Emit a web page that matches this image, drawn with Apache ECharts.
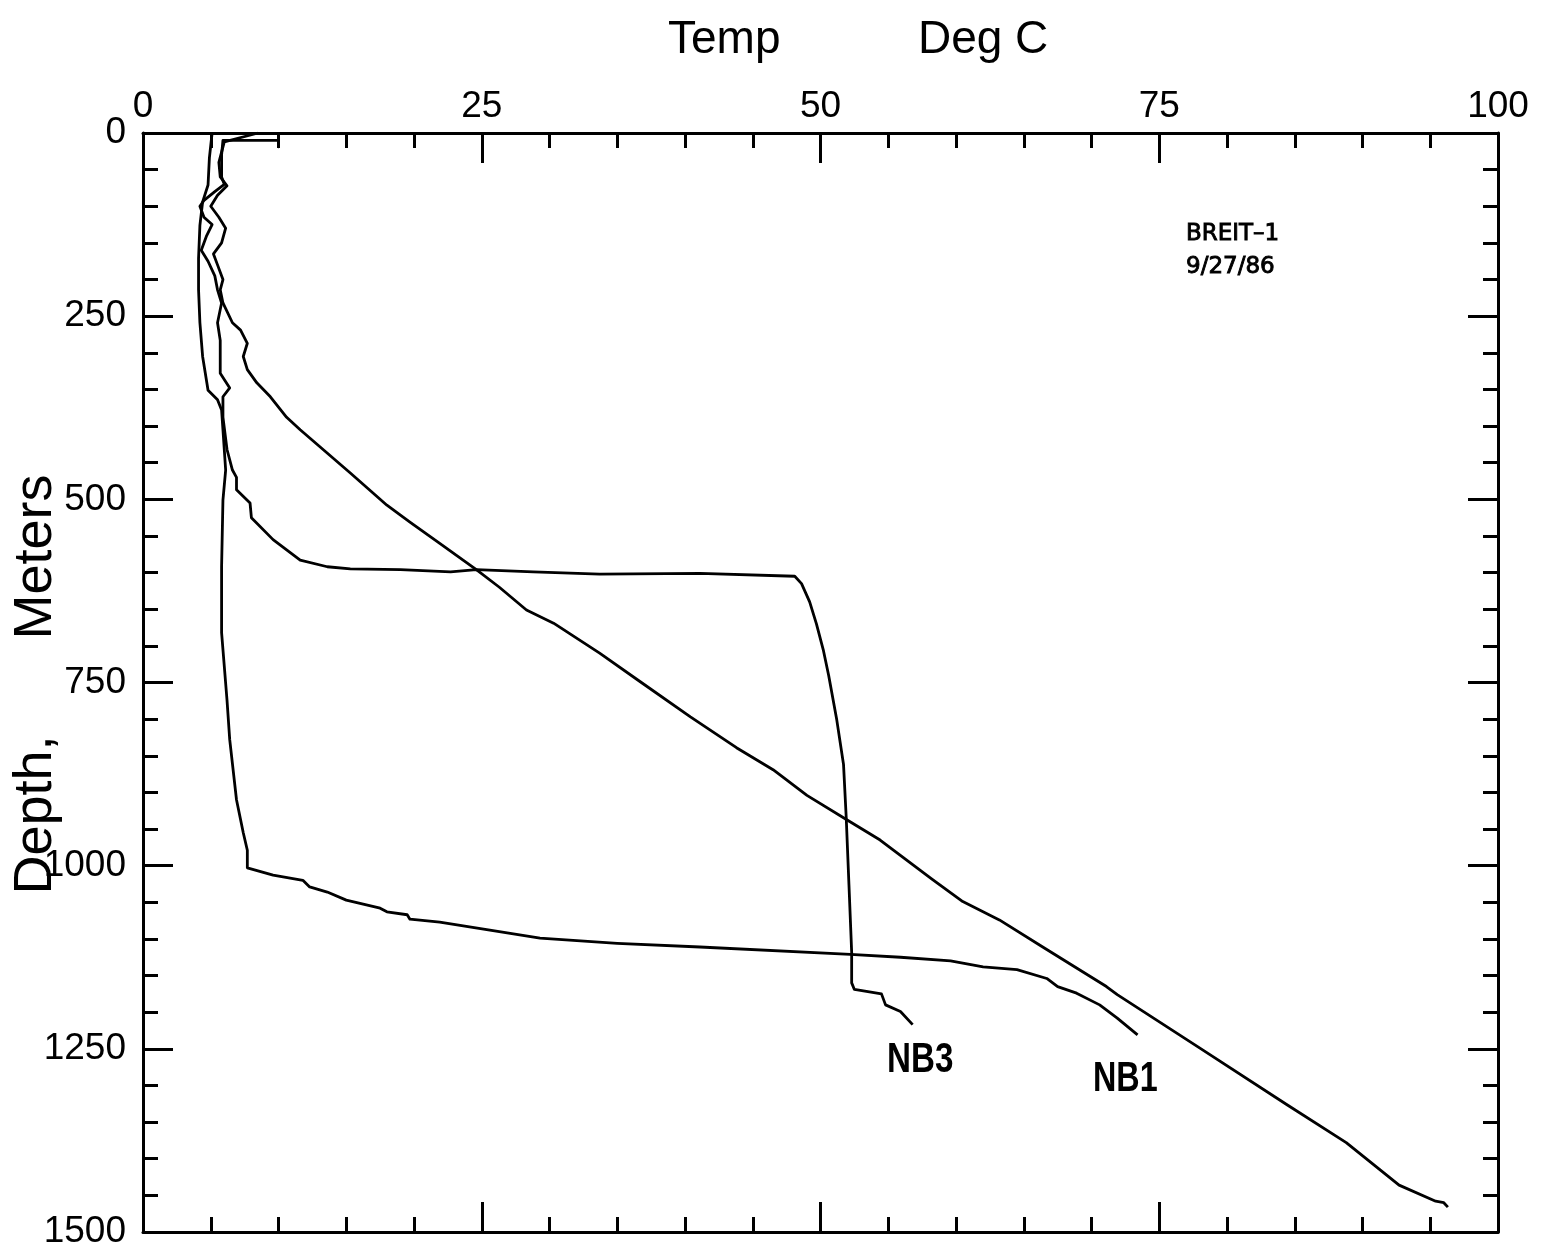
<!DOCTYPE html>
<html>
<head>
<meta charset="utf-8">
<title>BREIT-1 temperature logs</title>
<script src="https://cdn.jsdelivr.net/npm/echarts@6/dist/echarts.min.js"></script>
<style>
  html, body { margin: 0; padding: 0; background: #fff; }
  #chart { width: 1542px; height: 1259px; }
</style>
</head>
<body>
<div id="chart"></div>
<script>
// temperature (deg C) vs depth (m)
const breitTemp = [8.5, 6.0, 5.6, 5.7, 6.2, 5.5, 5.0, 5.6, 6.1, 5.8, 5.2, 5.5, 5.9, 5.7, 5.9, 6.6, 7.2, 7.7, 7.4, 7.7, 8.4, 9.4, 10.6, 11.6, 15.3, 18.0, 19.7, 21.9, 24.6, 26.3, 28.3, 30.3, 33.7, 36.7, 40.4, 43.8, 46.5, 49.0, 52.0, 54.4, 58.2, 60.5, 63.2, 66.4, 71.1, 71.9, 78.0, 84.4, 88.8, 92.7, 95.4, 96.0, 96.3]
const breitDepth = [0, 12, 40, 60, 72, 85, 100, 115, 130, 150, 165, 180, 200, 214, 232, 259, 269, 287, 305, 323, 341, 360, 388, 405, 464, 508, 531, 560, 596, 620, 651, 669, 710, 749, 797, 839, 869, 904, 938, 965, 1018, 1049, 1074, 1111, 1165, 1176, 1249, 1326, 1378, 1436, 1458, 1460, 1466]

const nb3Temp = [10.0, 10.0, 10.0, 5.9, 5.8, 5.8, 6.0, 5.3, 4.5, 4.2, 4.5, 5.1, 4.7, 4.3, 4.8, 5.3, 5.5, 5.8, 5.5, 5.7, 5.7, 6.4, 5.9, 5.9, 6.2, 6.6, 6.9, 6.9, 7.9, 8.0, 9.6, 11.6, 13.6, 15.3, 19.0, 22.7, 24.6, 28.8, 33.7, 41.1, 48.1, 48.6, 49.2, 49.7, 50.2, 50.6, 51.2, 51.7, 51.9, 52.1, 52.3, 52.3, 52.5, 54.5, 54.8, 55.9, 56.8]
const nb3Depth = [3, 19, 10, 10, 30, 60, 70, 80, 92, 100, 115, 125, 140, 160, 175, 195, 214, 232, 259, 283, 328, 348, 360, 388, 432, 460, 470, 487, 505, 525, 555, 583, 592, 595, 596, 599, 596, 599, 602, 601, 605, 615, 640, 670, 705, 740, 801, 862, 935, 1026, 1118, 1160, 1169, 1175, 1190, 1199, 1217]

const nb1Temp = [5.1, 4.9, 4.8, 4.4, 4.2, 4.1, 4.1, 4.2, 4.4, 4.8, 5.5, 5.8, 5.9, 6.1, 5.9, 5.8, 5.8, 6.2, 6.4, 6.9, 7.4, 7.7, 7.7, 9.6, 11.8, 12.3, 13.6, 15.0, 17.5, 18.0, 19.5, 19.7, 21.9, 25.6, 29.3, 35.0, 41.1, 52.2, 55.9, 59.6, 62.0, 64.5, 66.7, 67.5, 68.9, 70.6, 71.9, 73.4]
const nb1Depth = [0, 34, 71, 94, 126, 171, 214, 259, 305, 351, 364, 378, 405, 460, 501, 592, 682, 774, 828, 910, 955, 979, 1003, 1013, 1020, 1029, 1036, 1047, 1058, 1063, 1067, 1073, 1077, 1088, 1099, 1106, 1111, 1121, 1125, 1130, 1138, 1142, 1154, 1165, 1174, 1190, 1208, 1231]

const tempTicks = [0, 25, 50, 75, 100]
const depthTicks = [0, 250, 500, 750, 1000, 1250, 1500]

function pairs(xs, ys) {
  return xs.map((x, i) => [x, ys[i]])
}

const FONT = "'Liberation Sans', Arial, sans-serif"

function axisBase(showLabel, min, max, step) {
  return {
    type: 'value',
    min: min,
    max: max,
    interval: step,
    axisLine: { show: true, onZero: false, lineStyle: { color: '#000', width: 3 } },
    axisTick: { show: true, inside: true, length: 30, lineStyle: { color: '#000', width: 3 } },
    minorTick: { show: true, splitNumber: 5, length: 15, lineStyle: { color: '#000', width: 3 } },
    splitLine: { show: false },
    minorSplitLine: { show: false },
    axisLabel: {
      show: showLabel,
      color: '#000',
      fontFamily: FONT,
      fontSize: 37,
      formatter: function (v) {
        return String(v)
      },
    },
  }
}

const xTop = axisBase(true, tempTicks[0], tempTicks[tempTicks.length - 1], 25)
xTop.position = 'top'
xTop.axisLabel.margin = 8
const xBottom = axisBase(false, tempTicks[0], tempTicks[tempTicks.length - 1], 25)
xBottom.position = 'bottom'

const yLeft = axisBase(true, depthTicks[0], depthTicks[depthTicks.length - 1], 250)
yLeft.position = 'left'
yLeft.inverse = true
yLeft.axisLabel.margin = 17
const yRight = axisBase(false, depthTicks[0], depthTicks[depthTicks.length - 1], 250)
yRight.position = 'right'
yRight.inverse = true

function curve(name, xs, ys) {
  return {
    name: name,
    type: 'line',
    xAxisIndex: 0,
    yAxisIndex: 0,
    showSymbol: false,
    symbol: 'none',
    smooth: false,
    lineStyle: { color: '#000', width: 2.8, join: 'round' },
    data: pairs(xs, ys),
  }
}

const LABEL_FONT = "bold 42px 'Liberation Sans', Arial, sans-serif"
const NOTE_FONT = "23px 'DejaVu Sans', sans-serif"

const chart = echarts.init(document.getElementById('chart'))
const option = {
  backgroundColor: '#fff',
  animation: false,
  grid: { left: 143, top: 133, right: 44, bottom: 27, containLabel: false, outerBoundsMode: 'none' },
  xAxis: [xTop, xBottom],
  yAxis: [yLeft, yRight],
  series: [
    curve('BREIT-1', breitTemp, breitDepth),
    curve('NB3', nb3Temp, nb3Depth),
    curve('NB1', nb1Temp, nb1Depth),
  ],
  graphic: [
    { type: 'text', x: 668, y: 40, style: { text: 'Temp', font: '46px ' + FONT, fill: '#000', textVerticalAlign: 'middle' } },
    { type: 'text', x: 918, y: 40, style: { text: 'Deg', font: '46px ' + FONT, fill: '#000', textVerticalAlign: 'middle' } },
    { type: 'text', x: 1015, y: 40, style: { text: 'C', font: '46px ' + FONT, fill: '#000', textVerticalAlign: 'middle' } },
    { type: 'text', x: 36, y: 815, rotation: Math.PI / 2, style: { text: 'Depth,', font: '54px ' + FONT, fill: '#000', textAlign: 'center', textVerticalAlign: 'middle' } },
    { type: 'text', x: 36, y: 557, rotation: Math.PI / 2, style: { text: 'Meters', font: '54px ' + FONT, fill: '#000', textAlign: 'center', textVerticalAlign: 'middle' } },
    { type: 'text', x: 1186, y: 234, style: { text: 'BREIT\u20131', font: NOTE_FONT, fill: '#000', stroke: '#000', lineWidth: 0.9, textVerticalAlign: 'middle' } },
    { type: 'text', x: 1186, y: 267, style: { text: '9/27/86', font: NOTE_FONT, fill: '#000', stroke: '#000', lineWidth: 0.9, textVerticalAlign: 'middle' } },
    { type: 'text', x: 887, y: 1060, scaleX: 0.79, style: { text: 'NB3', font: LABEL_FONT, fill: '#000', textVerticalAlign: 'middle' } },
    { type: 'text', x: 1093, y: 1079, scaleX: 0.77, style: { text: 'NB1', font: LABEL_FONT, fill: '#000', textVerticalAlign: 'middle' } },
  ],
}
chart.setOption(option, true)
</script>
</body>
</html>
